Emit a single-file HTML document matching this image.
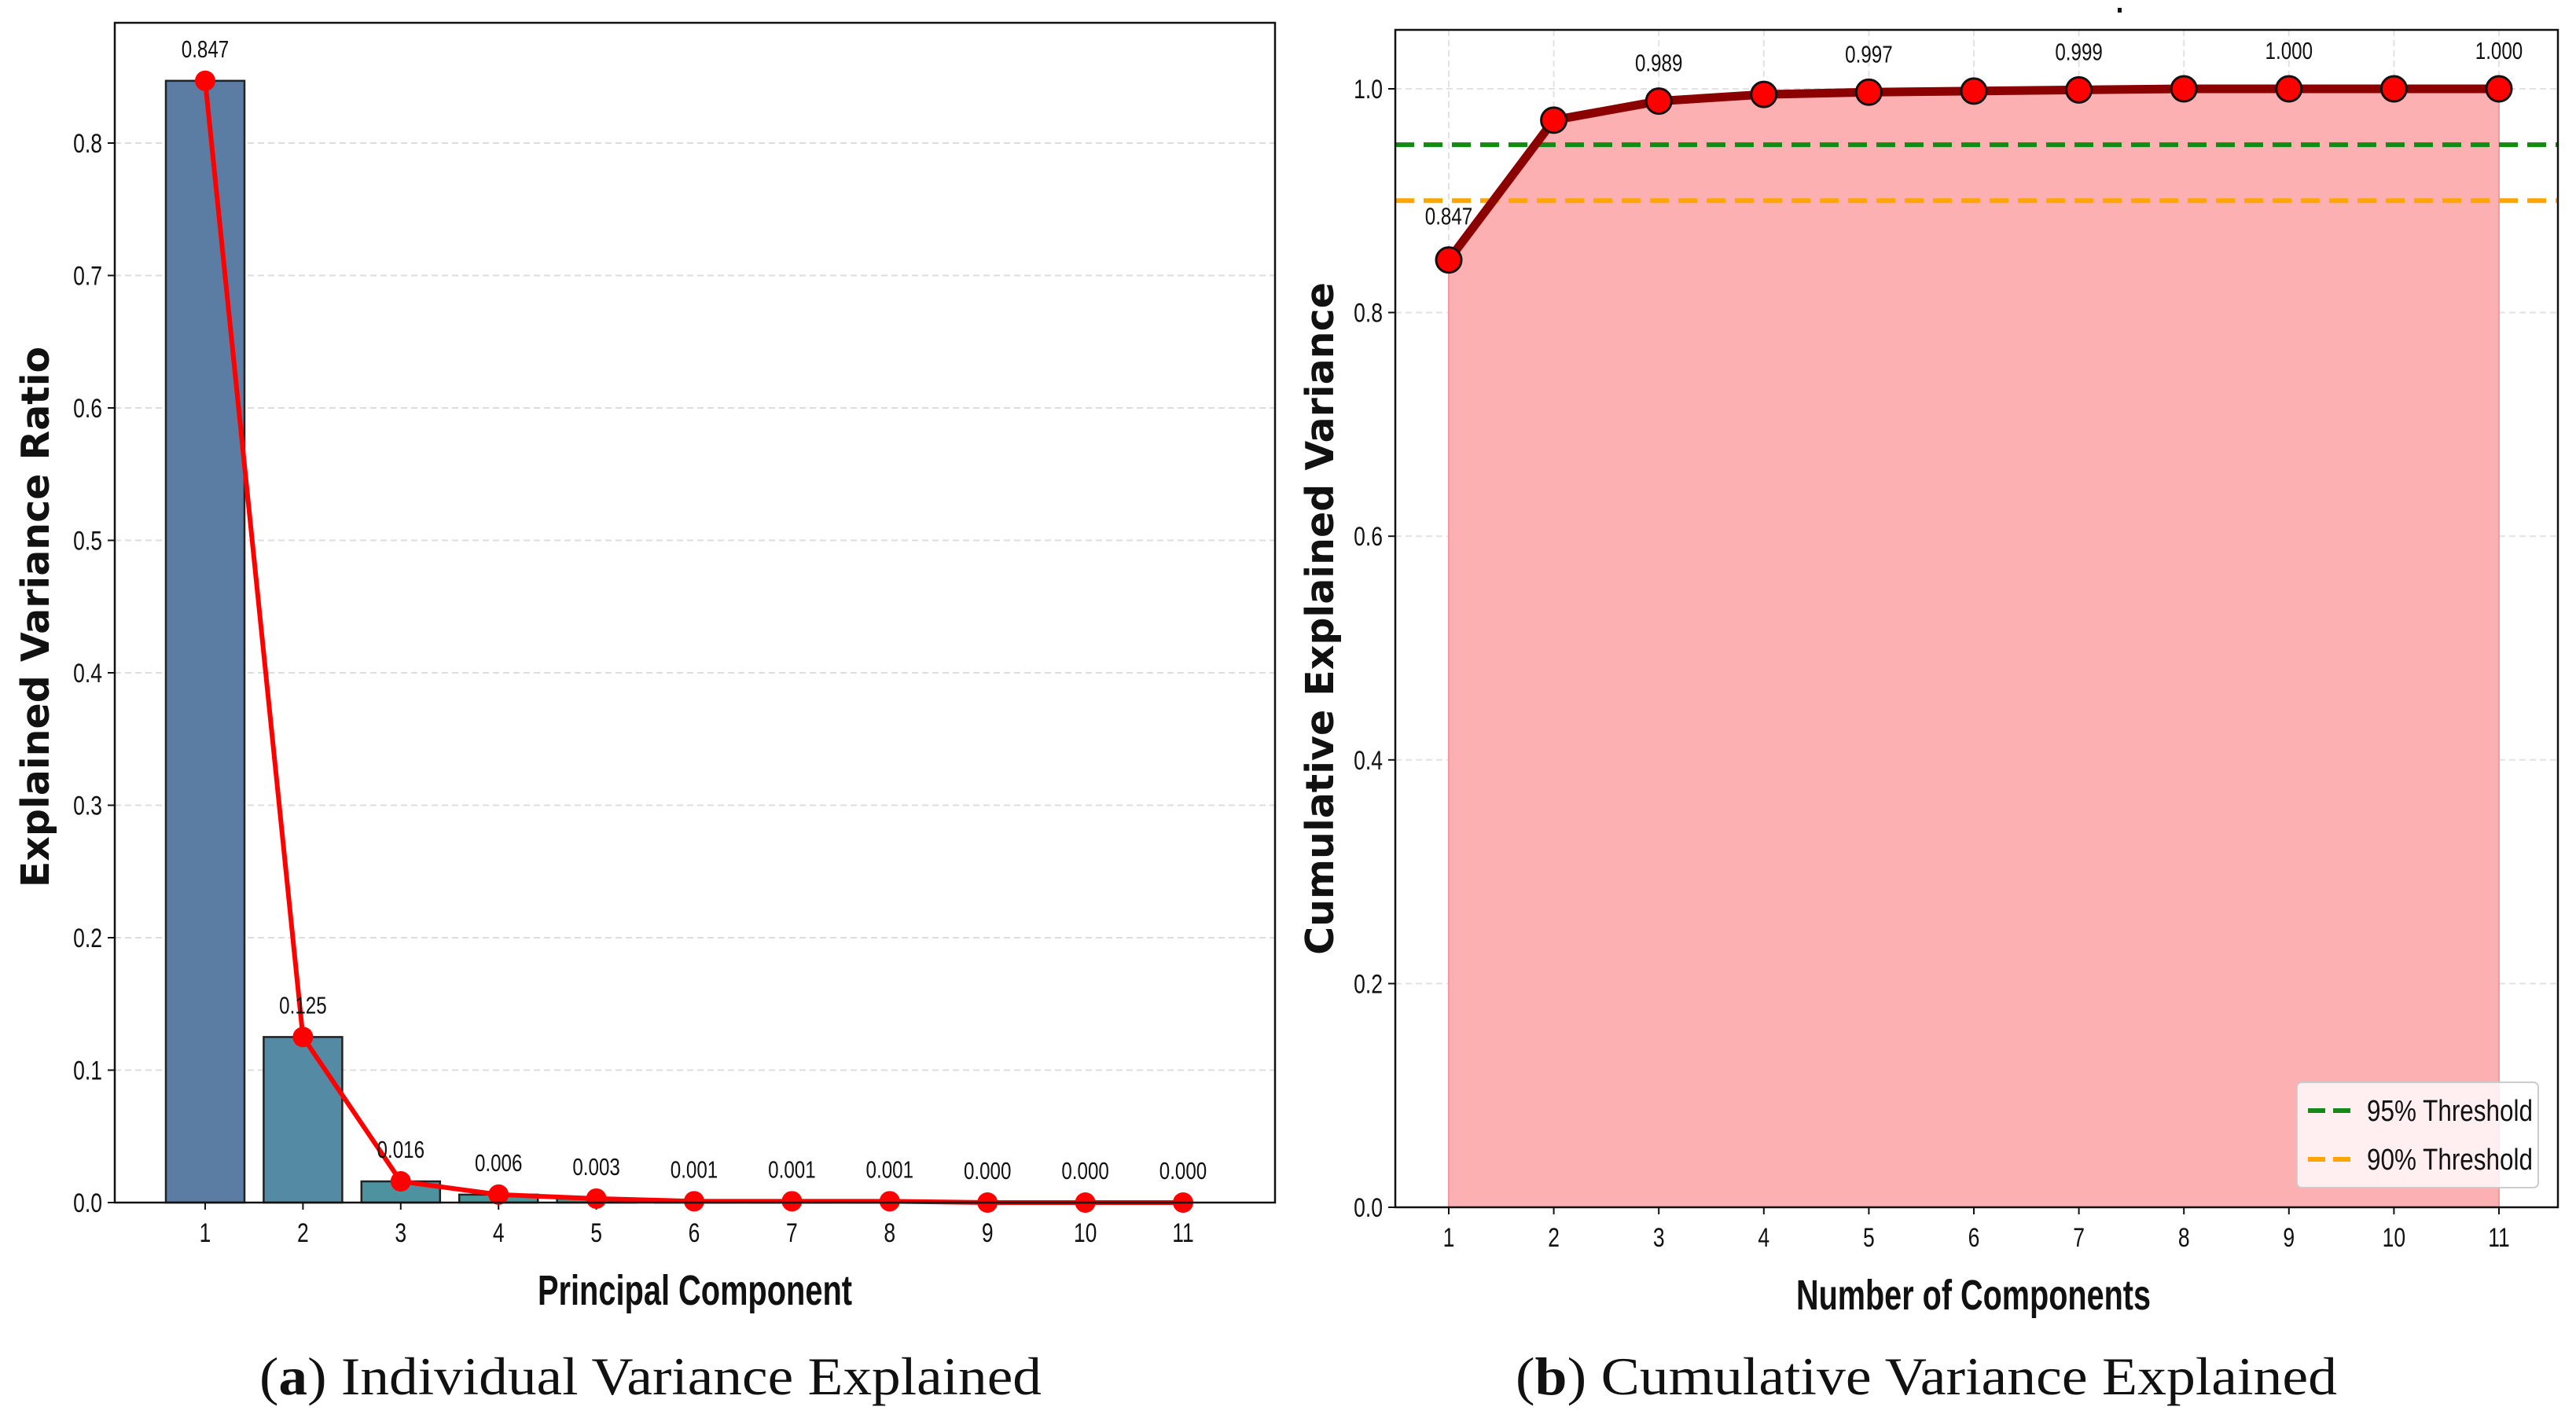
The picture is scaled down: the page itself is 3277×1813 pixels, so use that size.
<!DOCTYPE html>
<html><head><meta charset="utf-8">
<style>
html,body{margin:0;padding:0;background:#fff;}
svg{display:block;}
.tick{font-family:"Liberation Sans",sans-serif;font-size:34px;fill:#111;}
.ann{font-family:"Liberation Sans",sans-serif;font-size:31px;fill:#111;}
.ylab{font-family:"DejaVu Sans","Liberation Sans",sans-serif;font-weight:bold;font-size:49px;fill:#111;}
.xlab{font-family:"Liberation Sans",sans-serif;font-weight:bold;font-size:54px;fill:#111;}
.cap{font-family:"Liberation Serif",serif;font-size:68px;fill:#111;}
.leg{font-family:"Liberation Sans",sans-serif;font-size:38px;fill:#111;}
</style></head>
<body>
<svg id="fig" width="3277" height="1813" viewBox="0 0 3277 1813" xmlns="http://www.w3.org/2000/svg">
<g id="left"></g>
<g id="right"></g>
<text class="cap" x="330" y="1774" textLength="995" lengthAdjust="spacingAndGlyphs">(<tspan font-weight="bold">a</tspan>) Individual Variance Explained</text>
<text class="cap" x="1928" y="1774" textLength="1045" lengthAdjust="spacingAndGlyphs">(<tspan font-weight="bold">b</tspan>) Cumulative Variance Explained</text>
<rect x="2694" y="10" width="5" height="6" fill="#111"/>
</svg>
<script>
const components = [1,2,3,4,5,6,7,8,9,10,11];
const individual = [0.847,0.125,0.016,0.006,0.003,0.001,0.001,0.001,0.000,0.000,0.000];
const individualLabels = ["0.847","0.125","0.016","0.006","0.003","0.001","0.001","0.001","0.000","0.000","0.000"];
const cumulative = [0.847,0.972,0.989,0.995,0.997,0.998,0.999,1.000,1.000,1.000,1.000];
const cumulativeLabels = ["0.847","","0.989","","0.997","","0.999","","1.000","","1.000"];
const leftYTicks = [0.0,0.1,0.2,0.3,0.4,0.5,0.6,0.7,0.8];
const rightYTicks = [0.0,0.2,0.4,0.6,0.8,1.0];
const thresholds = [0.95,0.90];
const thresholdNames = ["95% Threshold","90% Threshold"];
const barColors = ["#5b7ca3","#548aa3","#4f929f","#4a979a","#46998f","#44998a","#449a86","#459a82","#469a7e","#489a7a","#4a9a76"];

const NS="http://www.w3.org/2000/svg";
function mk(parent,tag,attrs,text){const e=document.createElementNS(NS,tag);for(const k in attrs)e.setAttribute(k,attrs[k]);if(text!==undefined)e.textContent=text;parent.appendChild(e);return e;}
function ntext(parent,cls,x,y,anchor,str,sx){return mk(parent,'text',{class:cls,x:0,y:0,'text-anchor':anchor,transform:'translate('+x+','+y+') scale('+sx+',1)'},str);}

// ---------- LEFT ----------
const L=document.getElementById('left');
const lx0=146,lx1=1622,ly0=1530,ly1=29;
const lxs=v=>261+(v-1)*124.4;
const lys=v=>ly0-v*(1348/0.8);
leftYTicks.forEach(t=>{
  if(t>0){const g=mk(L,'line',{x1:lx0,x2:lx1,y1:lys(t),y2:lys(t),stroke:'#ddd','stroke-width':2,'stroke-dasharray':'8,5'});
  }
  const tk=mk(L,'line',{x1:lx0-9,x2:lx0,y1:lys(t),y2:lys(t),stroke:'#111','stroke-width':2});
  
  const tl=ntext(L,'tick',lx0-16,lys(t)+12,'end',t.toFixed(1),0.78);
  
});
components.forEach((c,i)=>{
  const b=mk(L,'rect',{x:lxs(c)-50,y:lys(individual[i]),width:100,height:ly0-lys(individual[i]),fill:barColors[i],stroke:'#222','stroke-width':2.5});
  
  const tk=mk(L,'line',{x1:lxs(c),x2:lxs(c),y1:ly0,y2:ly0+9,stroke:'#111','stroke-width':2});
  
  const tl=ntext(L,'tick',lxs(c),ly0+50,'middle',String(c),0.78);
  
});
const lpts=components.map((c,i)=>lxs(c)+','+lys(individual[i])).join(' ');
const lline=mk(L,'polyline',{points:lpts,fill:'none',stroke:'#ff0000','stroke-width':6,'stroke-linejoin':'round'});

components.forEach((c,i)=>{
  const p=mk(L,'circle',{cx:lxs(c),cy:lys(individual[i]),r:13,fill:'#ff0000'});
  
  const a=ntext(L,'ann',lxs(c),lys(individual[i])-30,'middle',individualLabels[i],0.78);
  
});
const lf=mk(L,'rect',{x:lx0,y:ly1,width:lx1-lx0,height:ly0-ly1,fill:'none',stroke:'#111','stroke-width':2.5});

const lyl=mk(L,'text',{class:'ylab',x:62,y:785,'text-anchor':'middle',transform:'rotate(-90 62 785)'},'Explained Variance Ratio');

const lxl=mk(L,'text',{class:'xlab',x:684,y:1660,textLength:400,lengthAdjust:'spacingAndGlyphs'},'Principal Component');


// ---------- RIGHT ----------
const R=document.getElementById('right');
const rx0=1775,rx1=3254,ry0=1536,ry1=38;
const rxs=v=>1843+(v-1)*133.6;
const rys=v=>ry0-v*1423;
components.forEach(c=>{
  const g=mk(R,'line',{x1:rxs(c),x2:rxs(c),y1:ry1,y2:ry0,stroke:'#e2e2e2','stroke-width':2,'stroke-dasharray':'8,5'});
  
});
rightYTicks.forEach(t=>{
  if(t>0){const g=mk(R,'line',{x1:rx0,x2:rx1,y1:rys(t),y2:rys(t),stroke:'#e2e2e2','stroke-width':2,'stroke-dasharray':'8,5'});
  }
});
let area='M'+rxs(components[0])+','+ry0+' '+components.map((c,i)=>'L'+rxs(c)+','+rys(cumulative[i])).join(' ')+' L'+rxs(components[components.length-1])+','+ry0+' Z';
const fa=mk(R,'path',{d:area,fill:'#fcb0b2',stroke:'#f49a9c','stroke-width':2});

const thColors=['#138a13','#ffa500'];
thresholds.forEach((t,i)=>{
  const l=mk(R,'line',{x1:rx0,x2:rx1,y1:rys(t),y2:rys(t),stroke:thColors[i],'stroke-width':6,'stroke-dasharray':'24,12'});
  
});
rightYTicks.forEach(t=>{
  const tk=mk(R,'line',{x1:rx0-9,x2:rx0,y1:rys(t),y2:rys(t),stroke:'#111','stroke-width':2});
  
  const tl=ntext(R,'tick',rx0-16,rys(t)+12,'end',t.toFixed(1),0.78);
  
});
components.forEach(c=>{
  const tk=mk(R,'line',{x1:rxs(c),x2:rxs(c),y1:ry0,y2:ry0+9,stroke:'#111','stroke-width':2});
  
  const tl=ntext(R,'tick',rxs(c),ry0+50,'middle',String(c),0.78);
  
});
const rpts=components.map((c,i)=>rxs(c)+','+rys(cumulative[i])).join(' ');
const rline=mk(R,'polyline',{points:rpts,fill:'none',stroke:'#8b0000','stroke-width':11,'stroke-linejoin':'round'});

components.forEach((c,i)=>{
  const p=mk(R,'circle',{cx:rxs(c),cy:rys(cumulative[i]),r:16,fill:'#ff0000',stroke:'#111','stroke-width':3});
  
  if(cumulativeLabels[i]){
    const off=i===0?-45:-38;
    const a=ntext(R,'ann',rxs(c),rys(cumulative[i])+off,'middle',cumulativeLabels[i],0.78);
    
  }
});
const rf=mk(R,'rect',{x:rx0,y:ry1,width:rx1-rx0,height:ry0-ry1,fill:'none',stroke:'#111','stroke-width':2.5});

// legend
const lg=mk(R,'g',{});

const lb=mk(lg,'rect',{x:2922,y:1377,width:307,height:134,rx:6,fill:'#fff','fill-opacity':0.8,stroke:'#ccc','stroke-width':2});

thresholdNames.forEach((n,i)=>{
  const y=1413+i*62;
  const ls=mk(lg,'line',{x1:2936,x2:2994,y1:y,y2:y,stroke:thColors[i],'stroke-width':6,'stroke-dasharray':'22,10'});
  
  const lt=mk(lg,'text',{class:'leg',x:3011,y:y+13,textLength:211,lengthAdjust:'spacingAndGlyphs'},n);
  
});
const ryl=mk(R,'text',{class:'ylab',x:1696,y:787,'text-anchor':'middle',transform:'rotate(-90 1696 787)'},'Cumulative Explained Variance');

const rxl=mk(R,'text',{class:'xlab',x:2285,y:1666,textLength:451,lengthAdjust:'spacingAndGlyphs'},'Number of Components');

</script>
</body></html>
